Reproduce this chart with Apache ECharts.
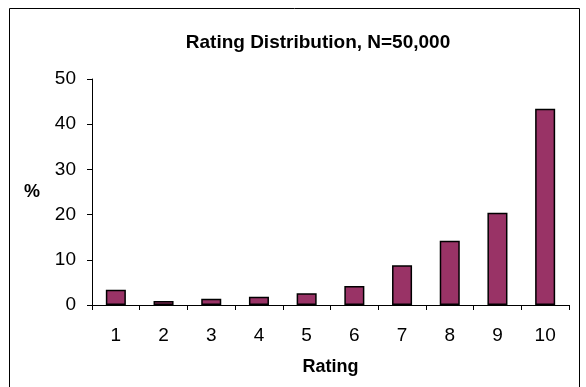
<!DOCTYPE html>
<html><head><meta charset="utf-8">
<script src="https://cdn.jsdelivr.net/npm/echarts@6/dist/echarts.min.js"></script>
<style>html,body{margin:0;padding:0;background:#fff;}#c{width:586px;height:387px;}</style>
</head><body><div id="c"></div>
<script>
const categories = ['1','2','3','4','5','6','7','8','9','10'];
const percents = [3.4, 0.9, 1.4, 1.8, 2.6, 4.2, 8.8, 14.2, 20.4, 43.4];
const yTicks = [0, 10, 20, 30, 40, 50];

const chart = echarts.init(document.getElementById('c'));
chart.setOption({
  animation: false,
  backgroundColor: '#fff',
  title: {
    text: 'Rating Distribution, N=50,000',
    left: 313, top: 28, textAlign: 'center',
    textStyle: { fontFamily: 'Liberation Sans, Arial', fontWeight: 'bold', fontSize: 19, color: '#000' }
  },
  graphic: [
    { type: 'rect', shape: { x: 9.5, y: 8.5, width: 570, height: 390 }, style: { fill: 'none', stroke: '#000', lineWidth: 1 }, silent: true },
    { type: 'text', x: 32, y: 192, style: { text: '%', font: 'bold 18px Liberation Sans, Arial', fill: '#000', align: 'center', verticalAlign: 'middle' } }
  ],
  grid: { left: 92, right: 17, top: 79, bottom: 82, containLabel: false },
  xAxis: {
    type: 'category', data: categories,
    name: 'Rating', nameLocation: 'middle', nameGap: 53,
    nameTextStyle: { fontFamily: 'Liberation Sans, Arial', fontWeight: 'bold', fontSize: 18, color: '#000' },
    axisLine: { lineStyle: { color: '#000', width: 1 } },
    axisTick: { show: true, length: 5, inside: false, lineStyle: { color: '#000' } },
    axisLabel: { fontFamily: 'Liberation Sans, Arial', fontSize: 19, color: '#000', margin: 21 }
  },
  yAxis: {
    type: 'value', min: yTicks[0], max: yTicks[yTicks.length - 1], interval: 10,
    axisLine: { show: true, lineStyle: { color: '#000', width: 1 } },
    axisTick: { show: true, length: 5, lineStyle: { color: '#000' } },
    splitLine: { show: false },
    axisLabel: { fontFamily: 'Liberation Sans, Arial', fontSize: 19, color: '#000', margin: 16 }
  },
  series: [{
    type: 'bar', data: percents, barWidth: '42%',
    itemStyle: { color: '#993366', borderColor: '#000', borderWidth: 1.5 }
  }]
});
</script></body></html>
